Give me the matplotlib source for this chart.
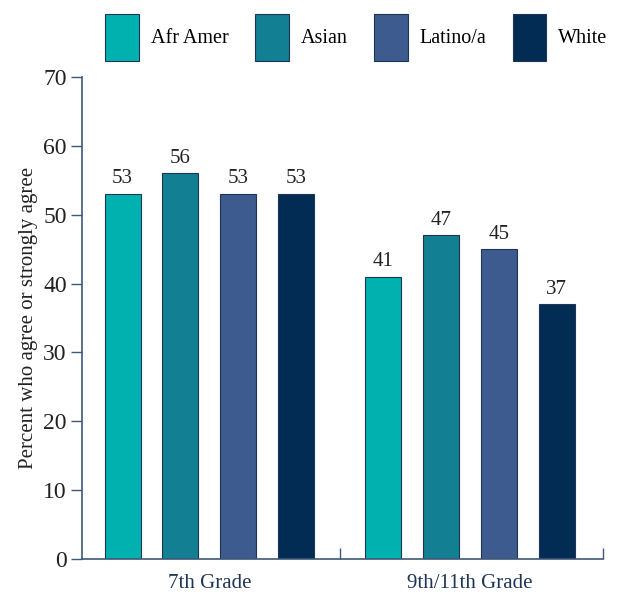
import numpy as np
import matplotlib
matplotlib.use('Agg')
import matplotlib.pyplot as plt

grades = ['7th Grade', '9th/11th Grade']
groups = ['Afr Amer', 'Asian', 'Latino/a', 'White']
values = {
    'Afr Amer': [53, 41],
    'Asian': [56, 47],
    'Latino/a': [53, 45],
    'White': [53, 37],
}
colors = ['#00B1B0', '#137F92', '#3D5B8E', '#022C54']
edge = '#1E3557'
spine_col = '#3E5878'

plt.rcParams['font.family'] = ['Liberation Serif', 'DejaVu Serif']

fig = plt.figure(figsize=(6.18, 5.92), dpi=100)
ax = fig.add_axes([0.1327, 0.0557, 0.8430, 0.8143])

x = np.arange(len(grades))
step = 0.222
width = 0.138
shift = -0.011
handles = []
for i, g in enumerate(groups):
    pos = x + (i - 1.5) * step + shift
    bars = ax.bar(pos, values[g], width, color=colors[i], edgecolor=edge,
                  linewidth=0.8, label=g)
    handles.append(bars)
    for p, v in zip(pos, values[g]):
        ax.annotate(str(v), (p, v), xytext=(0, 4), textcoords='offset points',
                    ha='center', va='bottom', fontsize=15, color='#222222')

ax.set_xlim(-0.5, 1.5)
ax.set_ylim(0, 70)
ax.set_yticks(range(0, 71, 10))
ax.tick_params(axis='y', direction='out', length=8, width=1, color=spine_col,
               labelsize=17, labelcolor='#222222', pad=3)
ax.set_xticks(x + shift)
ax.set_xticklabels(grades, fontsize=15, color='#1E3557')
ax.tick_params(axis='x', which='major', length=0, pad=11)
ax.set_xticks([0.489, 1.5], minor=True)
ax.tick_params(axis='x', which='minor', direction='in', length=8, width=1,
               color=spine_col)

for s in ['top', 'right']:
    ax.spines[s].set_visible(False)
for s in ['left', 'bottom']:
    ax.spines[s].set_color(spine_col)
    ax.spines[s].set_linewidth(1.2)

ax.set_ylabel('Percent who agree or strongly agree', fontsize=15,
              color='#222222', labelpad=4)

fig.legend(handles=handles, labels=groups, loc='upper center',
           bbox_to_anchor=(0.577, 1.0), ncol=4, frameon=False, fontsize=14.5,
           handlelength=1.65, handleheight=3.2, handletextpad=0.6,
           columnspacing=1.33, borderaxespad=0.3)

fig.savefig('out.png', dpi=100)
